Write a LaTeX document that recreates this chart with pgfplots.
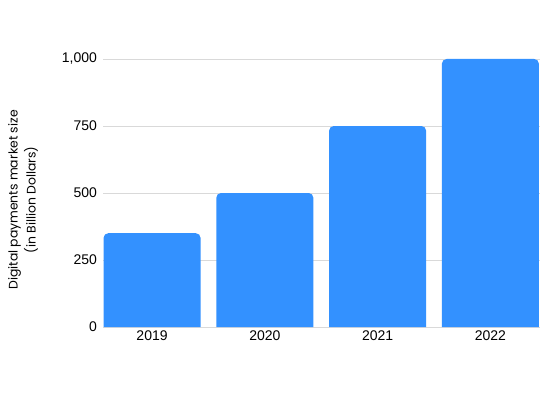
\documentclass[border=0pt]{standalone}
\usepackage{pgfplots}
\pgfplotsset{compat=1.18}
\usepackage{fontspec}
\setmainfont{Liberation Sans}
\newfontfamily\labelfont{Poppins}
\definecolor{barblue}{RGB}{51,145,255}
\definecolor{gridgray}{RGB}{217,217,217}
\tikzset{roundbar/.style={fill=barblue, draw=none, rounded corners=3.5pt, mark=none}}
\begin{document}
\begin{tikzpicture}
\path[use as bounding box] (-77.25pt,-52.5pt) rectangle (342pt,245.25pt);
\begin{axis}[
  at={(0,0)}, anchor=south west,
  scale only axis, width=327.75pt, height=201pt,
  xmin=-0.435, xmax=3.44, ymin=0, ymax=1000,
  xtick={0,1,2,3}, xticklabels={2019,2020,2021,2022},
  ytick={0,250,500,750,1000},
  yticklabels={0,250,500,750,{1,000}},
  axis line style={draw=none},
  major tick length=0pt,
  ymajorgrids, grid style={gridgray, line width=0.6pt},
  tick label style={font=\fontsize{10.5}{12}\selectfont, text=black},
  /pgf/number format/assume math mode=true,
  xticklabel style={yshift=1pt},
  yticklabel style={xshift=-1pt},
  ylabel={Digital payments market size\\(in Billion Dollars)},
  ylabel style={at={(rel axis cs:-0.183,0.474)}, anchor=center, rotate=0, align=center, font=\labelfont\fontsize{9.3}{13.5}\selectfont},
  clip=false,
]
% 2019: 350
\addplot[roundbar] coordinates {(-0.43,0) (-0.43,350) (0.43,350) (0.43,0)};
% 2020: 500
\addplot[roundbar] coordinates {(0.57,0) (0.57,500) (1.43,500) (1.43,0)};
% 2021: 750
\addplot[roundbar] coordinates {(1.57,0) (1.57,750) (2.43,750) (2.43,0)};
% 2022: 1000
\addplot[roundbar] coordinates {(2.57,0) (2.57,1000) (3.43,1000) (3.43,0)};
\end{axis}
\end{tikzpicture}
\end{document}
